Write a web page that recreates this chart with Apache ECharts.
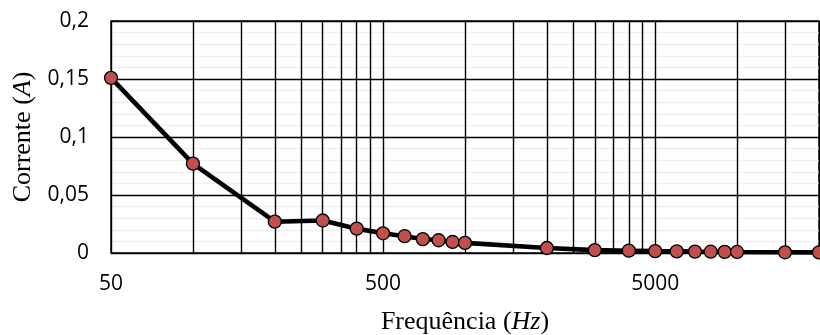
<!DOCTYPE html>
<html>
<head>
<meta charset="utf-8">
<script src="https://cdn.jsdelivr.net/npm/echarts@6/dist/echarts.min.js"></script>
<style>
  html, body { margin: 0; padding: 0; background: #fff; }
  #chart { width: 820px; height: 335px; }
</style>
</head>
<body>
<div id="chart"></div>
<script>
// Measured current versus frequency (log-scaled frequency axis)
const frequencies = [50, 100, 200, 300, 400, 500, 600, 700, 800, 900, 1000,
  2000, 3000, 4000, 5000, 6000, 7000, 8000, 9000, 10000, 15000, 20000];
const currents = [0.151, 0.077, 0.027, 0.028, 0.021, 0.017, 0.0145, 0.012, 0.011, 0.0095, 0.0087,
  0.0043, 0.0025, 0.002, 0.0016, 0.0014, 0.0012, 0.0011, 0.001, 0.0009, 0.0006, 0.0005];

// Labelled frequency ticks and the vertical grid positions
const freqLabelTicks = [50, 500, 5000];
const freqGridTicks = [50, 100, 150, 200, 250, 300, 350, 400, 450,
  500, 1000, 1500, 2000, 2500, 3000, 3500, 4000, 4500,
  5000, 10000, 15000, 20000];

// Current axis ticks
const currentTicks = [0, 0.05, 0.1, 0.15, 0.2];

const points = frequencies.map((f, i) => [f, currents[i]]);

const chart = echarts.init(document.getElementById('chart'), null, { renderer: 'canvas' });

chart.setOption({
  animation: false,
  backgroundColor: '#fff',
  grid: {
    left: 111, right: 1, top: 21, bottom: 82,
    show: true, borderColor: '#000', borderWidth: 1.4,
    containLabel: false,
    outerBoundsMode: 'none'
  },
  xAxis: {
    type: 'log',
    logBase: 10,
    min: freqGridTicks[0],
    max: freqGridTicks[freqGridTicks.length - 1],
    name: 'Frequência ({i|Hz})',
    nameLocation: 'middle',
    nameGap: 56,
    nameTextStyle: {
      fontFamily: 'Liberation Serif', fontSize: 26, color: '#000',
      rich: { i: { fontFamily: 'Liberation Serif', fontSize: 26, fontStyle: 'italic', color: '#000' } }
    },
    axisLine: { show: false },
    axisTick: { show: false, customValues: freqGridTicks },
    axisLabel: {
      customValues: freqLabelTicks,
      fontFamily: 'Open Sans', fontSize: 21, color: '#000', margin: 21,
      formatter: v => String(Math.round(v))
    },
    splitLine: { show: true, lineStyle: { color: '#000', width: 1.4 } }
  },
  yAxis: {
    type: 'value',
    min: currentTicks[0],
    max: currentTicks[currentTicks.length - 1],
    interval: currentTicks[1] - currentTicks[0],
    name: 'Corrente ({i|A})',
    nameLocation: 'middle',
    nameGap: 72,
    nameRotate: 90,
    nameTextStyle: {
      fontFamily: 'Liberation Serif', fontSize: 26, color: '#000',
      rich: { i: { fontFamily: 'Liberation Serif', fontSize: 26, fontStyle: 'italic', color: '#000' } }
    },
    axisLine: { show: false },
    axisTick: { show: false },
    minorTick: { show: false, splitNumber: 5 },
    axisLabel: {
      fontFamily: 'Open Sans', fontSize: 21, color: '#000', margin: 22,
      formatter: v => String(+v.toFixed(2)).replace('.', ',')
    },
    splitLine: { show: true, lineStyle: { color: '#000', width: 1.4 } },
    minorSplitLine: { show: true, lineStyle: { color: '#efefef', width: 1.3 } }
  },
  series: [{
    type: 'line',
    data: points,
    clip: false,
    z: 5,
    lineStyle: { color: '#000', width: 4.6 },
    symbol: 'circle',
    symbolSize: 13,
    itemStyle: { color: '#C0504D', borderColor: '#000', borderWidth: 1.3 }
  }]
});
</script>
</body>
</html>
